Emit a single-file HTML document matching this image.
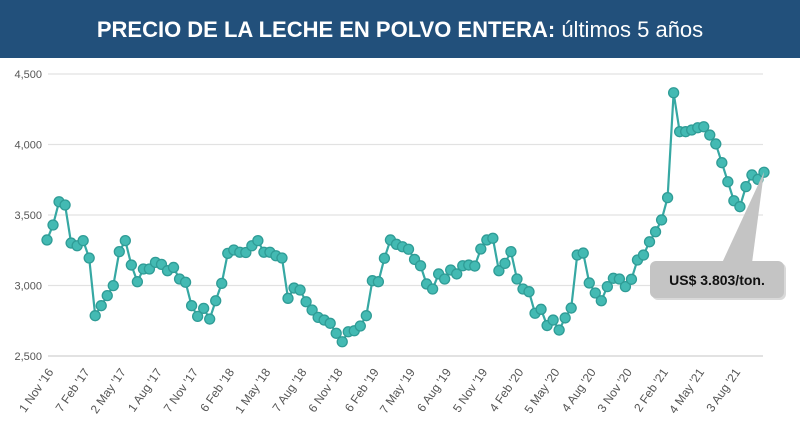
<!DOCTYPE html>
<html><head><meta charset="utf-8"><style>
body{margin:0;width:800px;height:432px;overflow:hidden;background:#fff;font-family:"Liberation Sans",sans-serif}
</style></head><body>
<svg width="800" height="432" viewBox="0 0 800 432">
<rect x="0" y="0" width="800" height="58" fill="#22507b"/>
<text x="400" y="37" text-anchor="middle" fill="#fff" font-size="22"><tspan font-weight="bold">PRECIO DE LA LECHE EN POLVO ENTERA:</tspan> últimos 5 años</text>
<g id="grid"></g><g id="yl"></g><g id="xl"></g><g id="series"></g>
<g>
<polygon points="722,263 752,263 764,172" fill="#c4c4c4"/>
<rect x="652" y="263" width="134" height="37" rx="6" fill="#000" opacity="0.15"/>
<rect x="650" y="261" width="134" height="37" rx="6" fill="#c4c4c4"/>
<text x="717" y="285" text-anchor="middle" font-size="14" font-weight="bold" fill="#111">US$ 3.803/ton.</text>
</g>
</svg>
<script>
const values=[3323,3429,3594,3571,3301,3282,3318,3195,2786,2857,2928,2999,3240,3318,3145,3027,3117,3117,3164,3150,3105,3128,3046,3023,2857,2781,2838,2762,2892,3015,3228,3252,3236,3234,3282,3318,3236,3236,3211,3195,2909,2982,2968,2885,2826,2774,2755,2732,2661,2601,2672,2679,2713,2786,3034,3027,3193,3323,3292,3275,3257,3185,3140,3011,2975,3082,3046,3110,3082,3140,3145,3138,3259,3323,3335,3105,3157,3240,3046,2975,2956,2803,2831,2716,2755,2684,2770,2840,3216,3230,3018,2947,2892,2992,3051,3046,2992,3044,3181,3216,3310,3381,3465,3623,4367,4091,4091,4103,4119,4126,4067,4004,3871,3736,3601,3559,3701,3784,3753,3803];
const xLabels=["1 Nov '16","7 Feb '17","2 May '17","1 Aug '17","7 Nov '17","6 Feb '18","1 May '18","7 Aug '18","6 Nov '18","6 Feb '19","7 May '19","6 Aug '19","5 Nov '19","4 Feb '20","5 May '20","4 Aug '20","3 Nov '20","2 Feb '21","4 May '21","3 Aug '21"];
const labelIdx=[0,6,12,18,24,30,36,42,48,54,60,66,72,78,84,90,96,102,108,114];
const yTicks=[2500,3000,3500,4000,4500];
const yTickLabels=["2,500","3,000","3,500","4,000","4,500"];
const NS="http://www.w3.org/2000/svg";
const x=i=>47+i*(717/(values.length-1));
const y=v=>356-(v-2500)*(282/2000);
function mk(t,a,p){const e=document.createElementNS(NS,t);for(const k in a)e.setAttribute(k,a[k]);document.getElementById(p).appendChild(e);return e;}
yTicks.forEach((t,i)=>{
 const g=mk('line',{x1:48,x2:763,y1:y(t),y2:y(t),stroke:'#e2e2e2','stroke-width':t===2500?2:1.2},'grid');
 
 
 const l=mk('text',{x:42,y:y(t)+4,'text-anchor':'end','font-size':11,fill:'#555'},'yl');
 l.textContent=yTickLabels[i];
 
 
});
xLabels.forEach((s,i)=>{
 const px=x(labelIdx[i])+7,py=372;
 const t=mk('text',{x:px,y:py,'text-anchor':'end','font-size':12,fill:'#555',transform:`rotate(-55 ${px} ${py})`},'xl');
 t.textContent=s;
 
 
});
const line=mk('polyline',{points:values.map((v,i)=>x(i)+','+y(v)).join(' '),fill:'none',stroke:'#36a8a3','stroke-width':2.2},'series');


values.forEach((v,i)=>{
 const c=mk('circle',{cx:x(i),cy:y(v),r:5,fill:'#43bab3',stroke:'#2f9c96','stroke-width':1.3},'series');
 
 
});
</script>
</body></html>
